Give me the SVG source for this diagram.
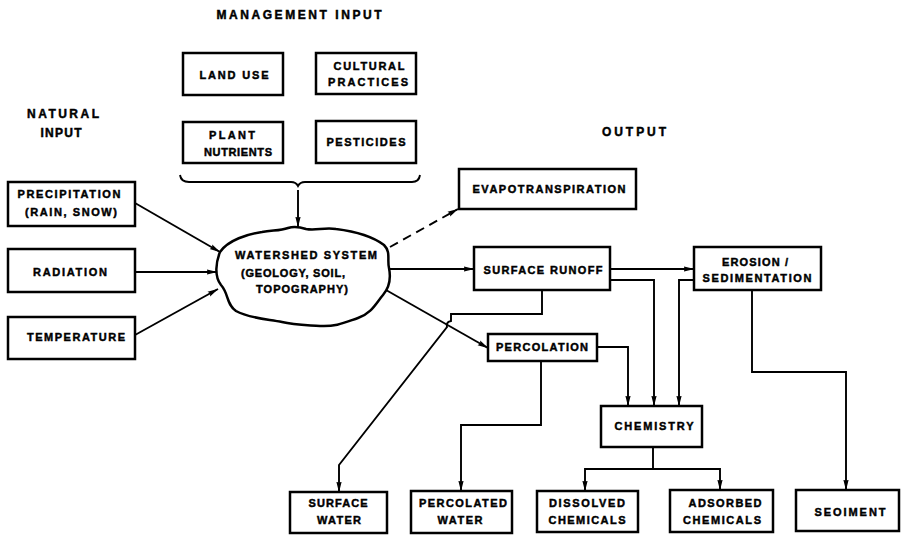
<svg xmlns="http://www.w3.org/2000/svg" width="903" height="535" viewBox="0 0 903 535">
<style>
  .box { fill: #fff; stroke: #000; stroke-width: 2.5; }
  .t { font-family: "Liberation Sans", Arial, sans-serif; font-weight: bold; font-size: 11px; text-anchor: middle; fill: #000; stroke: #000; stroke-width: 0.45; }
  .h { font-size: 12px; }
  .c { fill: none; stroke: #000; stroke-width: 1.9; marker-end: url(#ah); }
  .d { stroke-dasharray: 9 6; }
</style>
<defs>
  <marker id="ah" markerUnits="userSpaceOnUse" markerWidth="11" markerHeight="7" viewBox="0 0 11 7" refX="10.5" refY="3.5" orient="auto">
    <path d="M0,0.8 L11,3.5 L0,6.2 L1.5,3.5 Z" fill="#000" stroke="none"/>
  </marker>
</defs>
<rect width="903" height="535" fill="#fff"/>

<g id="headings">
  <text class="t h" x="299" y="19" textLength="165" lengthAdjust="spacing">MANAGEMENT INPUT</text>
  <text class="t h" x="63" y="118" textLength="72" lengthAdjust="spacing">NATURAL</text>
  <text class="t h" x="61" y="137" textLength="41" lengthAdjust="spacing">INPUT</text>
  <text class="t h" x="634" y="136" textLength="64" lengthAdjust="spacing">OUTPUT</text>
</g>

<g id="land-use"><rect class="box" x="183" y="53" width="100" height="42"/>
  <text class="t" x="234" y="79" textLength="69" lengthAdjust="spacing">LAND USE</text></g>
<g id="cultural-practices"><rect class="box" x="316" y="53" width="100" height="41"/>
  <text class="t" x="369" y="70" textLength="71" lengthAdjust="spacing">CULTURAL</text>
  <text class="t" x="368" y="86" textLength="80" lengthAdjust="spacing">PRACTICES</text></g>
<g id="plant-nutrients"><rect class="box" x="183" y="122" width="100" height="41"/>
  <text class="t" x="232" y="139" textLength="46" lengthAdjust="spacing">PLANT</text>
  <text class="t" x="238" y="156" textLength="68" lengthAdjust="spacing">NUTRIENTS</text></g>
<g id="pesticides"><rect class="box" x="316" y="121" width="100" height="42"/>
  <text class="t" x="366" y="146" textLength="79" lengthAdjust="spacing">PESTICIDES</text></g>

<g id="brace"><path d="M180,175 Q181,182 189,182 L291,182 Q296,182 298,186 Q300,182 305,182 L412,182 Q419,182 420,175" fill="none" stroke="#000" stroke-width="1.9"/></g>

<g id="precipitation"><rect class="box" x="8" y="182" width="127" height="44"/>
  <text class="t" x="69" y="198" textLength="103" lengthAdjust="spacing">PRECIPITATION</text>
  <text class="t" x="71" y="216" textLength="92" lengthAdjust="spacing">(RAIN, SNOW)</text></g>
<g id="radiation"><rect class="box" x="8" y="249" width="127" height="43"/>
  <text class="t" x="70" y="276" textLength="74" lengthAdjust="spacing">RADIATION</text></g>
<g id="temperature"><rect class="box" x="8" y="317" width="127" height="42"/>
  <text class="t" x="76" y="341" textLength="98" lengthAdjust="spacing">TEMPERATURE</text></g>

<g id="watershed-system">
  <path class="box" d="M220,252 C228,240 248,234 262,232 C272,230 280,231 288,228 C294,226 300,227 306,229 C316,231 324,227 336,229 C352,231 372,236 384,245 C391,252 387,260 389,268 C391,278 389,288 383,295 C376,303 372,313 358,318 C346,322 336,327 320,326 C306,325 294,325 282,322 C266,319 248,318 236,311 C226,304 229,294 221,285 C214,276 216,262 220,252 Z"/>
  <text class="t" x="306" y="259" textLength="142" lengthAdjust="spacing">WATERSHED SYSTEM</text>
  <text class="t" x="293" y="277" textLength="104" lengthAdjust="spacing">(GEOLOGY, SOIL,</text>
  <text class="t" x="302" y="293" textLength="92" lengthAdjust="spacing">TOPOGRAPHY)</text>
</g>

<g id="evapotranspiration"><rect class="box" x="459" y="169" width="177" height="40"/>
  <text class="t" x="549" y="193" textLength="153" lengthAdjust="spacing">EVAPOTRANSPIRATION</text></g>
<g id="surface-runoff"><rect class="box" x="474" y="247" width="136" height="43"/>
  <text class="t" x="543" y="274" textLength="119" lengthAdjust="spacing">SURFACE RUNOFF</text></g>
<g id="erosion-sedimentation"><rect class="box" x="694" y="247" width="127" height="43"/>
  <text class="t" x="755" y="266" textLength="66" lengthAdjust="spacing">EROSION /</text>
  <text class="t" x="757" y="282" textLength="109" lengthAdjust="spacing">SEDIMENTATION</text></g>
<g id="percolation"><rect class="box" x="488" y="334" width="109" height="27"/>
  <text class="t" x="542" y="351" textLength="92" lengthAdjust="spacing">PERCOLATION</text></g>
<g id="chemistry"><rect class="box" x="601" y="406" width="101" height="41"/>
  <text class="t" x="654" y="430" textLength="79" lengthAdjust="spacing">CHEMISTRY</text></g>

<g id="surface-water"><rect class="box" x="290" y="492" width="97" height="41"/>
  <text class="t" x="338" y="507" textLength="59" lengthAdjust="spacing">SURFACE</text>
  <text class="t" x="339" y="524" textLength="44" lengthAdjust="spacing">WATER</text></g>
<g id="percolated-water"><rect class="box" x="411" y="491" width="101" height="42"/>
  <text class="t" x="463" y="507" textLength="88" lengthAdjust="spacing">PERCOLATED</text>
  <text class="t" x="460" y="524" textLength="45" lengthAdjust="spacing">WATER</text></g>
<g id="dissolved-chemicals"><rect class="box" x="537" y="491" width="101" height="41"/>
  <text class="t" x="587" y="507" textLength="76" lengthAdjust="spacing">DISSOLVED</text>
  <text class="t" x="587" y="524" textLength="77" lengthAdjust="spacing">CHEMICALS</text></g>
<g id="adsorbed-chemicals"><rect class="box" x="670" y="490" width="103" height="42"/>
  <text class="t" x="725" y="507" textLength="73" lengthAdjust="spacing">ADSORBED</text>
  <text class="t" x="722" y="524" textLength="78" lengthAdjust="spacing">CHEMICALS</text></g>
<g id="sediment"><rect class="box" x="796" y="490" width="103" height="41"/>
  <text class="t" x="850" y="516" textLength="71" lengthAdjust="spacing">SEOIMENT</text></g>

<g id="connectors">
  <path class="c" d="M135,203 L220,252"/>
  <path class="c" d="M135,272 L217,272"/>
  <path class="c" d="M135,335 L218,289"/>
  <path class="c" d="M298,190 L298,227"/>
  <path class="c d" d="M390,247 L458,209"/>
  <path class="c" d="M390,269 L474,269"/>
  <path class="c" d="M610,269 L694,269"/>
  <path class="c" d="M610,280 H654 V406"/>
  <path class="c" d="M694,280 H679 V406"/>
  <path class="c" d="M597,347 H628 V406"/>
  <path class="c" d="M386,290 L488,348"/>
  <path class="c" d="M542,290 V314 H451 V321 Q446,322 447,327 L339,465 V492"/>
  <path class="c" d="M541,361 V425 H461 V491"/>
  <path class="c" d="M752,290 V372 H846 V490"/>
  <path class="c" d="M653,447 V469 H585 V491"/>
  <path class="c" d="M653,469 H720 V490"/>
</g>
</svg>
